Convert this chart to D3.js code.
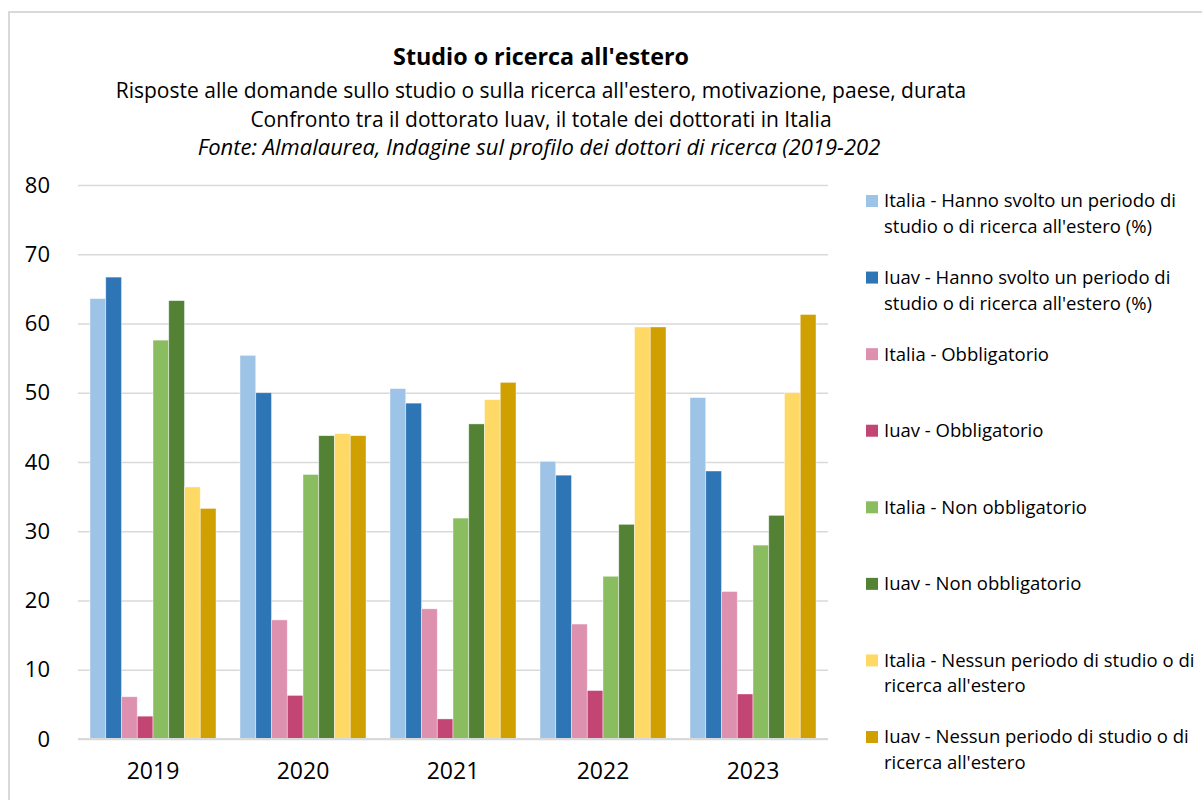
<!DOCTYPE html>
<html lang="en">
<head>
  <meta charset="UTF-8">
  <title>Studio o ricerca all'estero</title>
  <script src="https://d3js.org/d3.v7.min.js"></script>
  <style>
    body, html {
      margin: 0;
      padding: 0;
      overflow: hidden;
      background: #fff;
    }
    svg {
      font-family: "Open Sans", Lato, sans-serif;
    }
  </style>
</head>
<body>
  <svg width="1202" height="800"></svg>
  <script>
    // Data
    const years = ['2019', '2020', '2021', '2022', '2023'];
    const seriesNames = [
      "Italia - Hanno svolto un periodo di\nstudio o di ricerca all'estero (%)",
      "Iuav - Hanno svolto un periodo di\nstudio o di ricerca all'estero (%)",
      'Italia - Obbligatorio',
      'Iuav - Obbligatorio',
      'Italia - Non obbligatorio',
      'Iuav - Non obbligatorio',
      "Italia - Nessun periodo di studio o di\nricerca all'estero",
      "Iuav - Nessun periodo di studio o di\nricerca all'estero"
    ];
    const italiaSvolto = [63.6, 55.4, 50.6, 40.1, 49.3];
    const iuavSvolto = [66.7, 50.0, 48.5, 38.1, 38.7];
    const italiaObbl = [6.1, 17.2, 18.8, 16.6, 21.3];
    const iuavObbl = [3.3, 6.3, 2.9, 7.0, 6.5];
    const italiaNonObbl = [57.6, 38.2, 31.9, 23.5, 28.0];
    const iuavNonObbl = [63.3, 43.8, 45.5, 31.0, 32.3];
    const italiaNessun = [36.4, 44.1, 49.0, 59.5, 50.0];
    const iuavNessun = [33.3, 43.8, 51.5, 59.5, 61.3];
    const yTicks = [0, 10, 20, 30, 40, 50, 60, 70, 80];

    const seriesValues = [italiaSvolto, iuavSvolto, italiaObbl, iuavObbl,
      italiaNonObbl, iuavNonObbl, italiaNessun, iuavNessun];
    const colors = ['#9DC3E6', '#2E75B6', '#DE91AF', '#C34574',
      '#8ABD5F', '#548235', '#FFD966', '#D09F00'];

    const svg = d3.select('svg');

    // chart frame (cut off on the right and bottom)
    svg.append('rect')
      .attr('x', 9).attr('y', 12)
      .attr('width', 1300).attr('height', 900)
      .attr('fill', 'none')
      .attr('stroke', '#d9d9d9')
      .attr('stroke-width', 2);

    // titles
    const titles = svg.append('g').attr('text-anchor', 'middle').attr('fill', '#000');
    titles.append('text')
      .attr('x', 541).attr('y', 65)
      .attr('font-size', 23.3).attr('font-weight', 'bold')
      .text("Studio o ricerca all'estero");
    titles.append('text')
      .attr('x', 541).attr('y', 98)
      .attr('font-size', 21)
      .text("Risposte alle domande sullo studio o sulla ricerca all'estero, motivazione, paese, durata");
    titles.append('text')
      .attr('x', 541).attr('y', 127)
      .attr('font-size', 21)
      .text('Confronto tra il dottorato Iuav, il totale dei dottorati in Italia');
    titles.append('text')
      .attr('x', 539).attr('y', 155)
      .attr('font-size', 22).attr('font-style', 'italic')
      .text('Fonte: Almalaurea, Indagine sul profilo dei dottori di ricerca (2019-202');

    // scales
    const x0 = d3.scaleBand()
      .domain(years)
      .range([78, 828])
      .paddingInner(0.16)
      .paddingOuter(0.08);
    const x1 = d3.scaleBand()
      .domain(d3.range(seriesValues.length))
      .range([0, x0.bandwidth()]);
    const y = d3.scaleLinear().domain([0, 80]).range([739, 185]);

    // grid
    const yAxis = d3.axisLeft(y).tickValues(yTicks).tickSize(-(828 - 78)).tickPadding(28);
    const gy = svg.append('g')
      .attr('transform', 'translate(78,0)')
      .call(yAxis);
    gy.select('.domain').remove();
    gy.selectAll('.tick line').attr('stroke', '#d9d9d9').attr('stroke-width', 1.5);
    gy.selectAll('.tick text')
      .attr('font-size', 22)
      .attr('fill', '#000')
      .attr('font-family', '"Open Sans", sans-serif');

    // bars
    const groups = svg.append('g')
      .selectAll('g')
      .data(years)
      .join('g')
      .attr('transform', (d) => `translate(${x0(d)},0)`);
    groups.selectAll('rect')
      .data((d, i) => seriesValues.map((vals, s) => ({ s, v: vals[i] })))
      .join('rect')
      .attr('x', (d) => x1(d.s))
      .attr('width', x1.bandwidth())
      .attr('y', (d) => y(d.v))
      .attr('height', (d) => y(0) - y(d.v))
      .attr('fill', (d) => colors[d.s])
      .attr('stroke', '#fff')
      .attr('stroke-opacity', 0.6)
      .attr('stroke-width', 0.7);

    // baseline
    svg.append('line')
      .attr('x1', 78).attr('x2', 828)
      .attr('y1', y(0)).attr('y2', y(0))
      .attr('stroke', '#d9d9d9')
      .attr('stroke-width', 2);

    // x axis labels
    const xAxis = d3.axisBottom(x0).tickSize(0).tickPadding(24);
    const gx = svg.append('g')
      .attr('transform', `translate(0,${y(0)})`)
      .call(xAxis);
    gx.select('.domain').remove();
    gx.selectAll('.tick text')
      .attr('font-size', 23)
      .attr('fill', '#000')
      .attr('font-family', '"Open Sans", sans-serif');

    // legend
    const legendY = d3.scalePoint()
      .domain(d3.range(seriesNames.length))
      .range([201, 737]);
    const legend = svg.append('g')
      .selectAll('g')
      .data(seriesNames)
      .join('g')
      .attr('transform', (d, i) => `translate(866,${legendY(i)})`);
    legend.append('rect')
      .attr('x', 0).attr('y', -6)
      .attr('width', 12).attr('height', 12)
      .attr('fill', (d, i) => colors[i]);
    legend.append('text')
      .attr('font-size', 18.5)
      .attr('fill', '#000')
      .selectAll('tspan')
      .data((d) => d.split('\n'))
      .join('tspan')
      .attr('x', 18)
      .attr('y', (d, i) => i * 25.5)
      .attr('dy', '0.35em')
      .text((d) => d);
  </script>
</body>
</html>
